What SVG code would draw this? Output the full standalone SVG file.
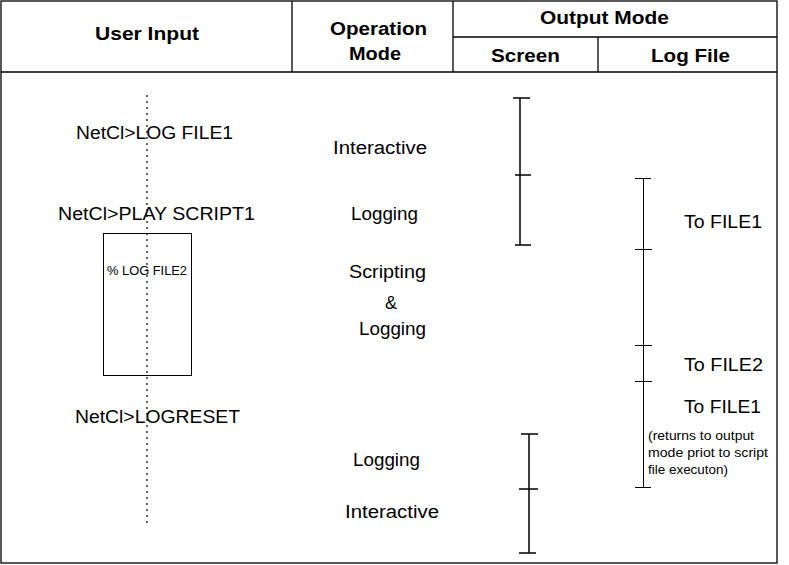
<svg xmlns="http://www.w3.org/2000/svg" width="789" height="565" viewBox="0 0 789 565">
<style>
.frame{fill:none;stroke:#000;stroke-width:1.3}
.h{font-family:"Liberation Sans",Arial,sans-serif;font-weight:bold;font-size:18px;fill:#000}
.t{font-family:"Liberation Sans",Arial,sans-serif;font-size:18px;fill:#000}
.s{font-family:"Liberation Sans",Arial,sans-serif;font-size:12px;fill:#000}
.bar{stroke:#000;stroke-width:1.5;fill:none}
.bar1{stroke:#000;stroke-width:1;fill:none}
.dot{stroke:#000;stroke-width:1.2;stroke-dasharray:2,4;fill:none}
</style>
<rect width="789" height="565" fill="#fff"/>
<g id="table">
<rect class="frame" x="1" y="1" width="776" height="562"/>
<line class="frame" x1="1" y1="72" x2="777" y2="72"/>
<line class="frame" x1="292" y1="1" x2="292" y2="72"/>
<line class="frame" x1="453" y1="1" x2="453" y2="72"/>
<line class="frame" x1="598" y1="37" x2="598" y2="72"/>
<line class="frame" x1="453" y1="37" x2="777" y2="37"/>
<text class="h" x="95" y="40" textLength="104" lengthAdjust="spacingAndGlyphs">User Input</text>
<text class="h" x="330" y="35" textLength="97" lengthAdjust="spacingAndGlyphs">Operation</text>
<text class="h" x="349" y="60" textLength="52" lengthAdjust="spacingAndGlyphs">Mode</text>
<text class="h" x="540" y="24" textLength="129" lengthAdjust="spacingAndGlyphs">Output Mode</text>
<text class="h" x="491" y="62" textLength="69" lengthAdjust="spacingAndGlyphs">Screen</text>
<text class="h" x="651" y="62" textLength="79" lengthAdjust="spacingAndGlyphs">Log File</text>
</g>
<g id="user-input">
<line class="dot" x1="147" y1="95" x2="147" y2="523"/>
<text class="t" x="76" y="139" textLength="157" lengthAdjust="spacingAndGlyphs">NetCl&gt;LOG FILE1</text>
<text class="t" x="58" y="220" textLength="197" lengthAdjust="spacingAndGlyphs">NetCl&gt;PLAY SCRIPT1</text>
<rect x="103.5" y="233.5" width="88" height="142" fill="none" stroke="#000" stroke-width="1"/>
<text class="s" x="107" y="275" textLength="80" lengthAdjust="spacingAndGlyphs">% LOG FILE2</text>
<text class="t" x="75" y="423" textLength="165" lengthAdjust="spacingAndGlyphs">NetCl&gt;LOGRESET</text>
</g>
<g id="operation-mode">
<text class="t" x="333" y="154" textLength="94" lengthAdjust="spacingAndGlyphs">Interactive</text>
<text class="t" x="351" y="220" textLength="67" lengthAdjust="spacingAndGlyphs">Logging</text>
<text class="t" x="349" y="278" textLength="77" lengthAdjust="spacingAndGlyphs">Scripting</text>
<text class="t" x="385" y="309" textLength="12" lengthAdjust="spacingAndGlyphs">&amp;</text>
<text class="t" x="359" y="335" textLength="67" lengthAdjust="spacingAndGlyphs">Logging</text>
<text class="t" x="353" y="466" textLength="67" lengthAdjust="spacingAndGlyphs">Logging</text>
<text class="t" x="345" y="518" textLength="94" lengthAdjust="spacingAndGlyphs">Interactive</text>
</g>
<g id="screen-bars">
<line class="bar" x1="520" y1="98" x2="520" y2="245"/>
<line class="bar" x1="513" y1="98" x2="530" y2="98"/>
<line class="bar" x1="515" y1="175" x2="531" y2="175"/>
<line class="bar" x1="515" y1="245" x2="531" y2="245"/>
<line class="bar" x1="529" y1="434" x2="529" y2="553"/>
<line class="bar" x1="521" y1="434" x2="538" y2="434"/>
<line class="bar" x1="519" y1="489" x2="538" y2="489"/>
<line class="bar" x1="519" y1="553" x2="536" y2="553"/>
</g>
<g id="log-file">
<line class="bar1" x1="643.5" y1="178.5" x2="643.5" y2="487.5"/>
<line class="bar1" x1="635" y1="178.5" x2="651" y2="178.5"/>
<line class="bar1" x1="635" y1="249.5" x2="652" y2="249.5"/>
<line class="bar1" x1="635" y1="345.5" x2="652" y2="345.5"/>
<line class="bar1" x1="635" y1="381.5" x2="652" y2="381.5"/>
<line class="bar1" x1="635" y1="487.5" x2="651" y2="487.5"/>
<text class="t" x="684" y="228" textLength="78" lengthAdjust="spacingAndGlyphs">To FILE1</text>
<text class="t" x="684" y="371" textLength="79" lengthAdjust="spacingAndGlyphs">To FILE2</text>
<text class="t" x="684" y="413" textLength="77" lengthAdjust="spacingAndGlyphs">To FILE1</text>
<text class="s" x="648" y="440" textLength="106" lengthAdjust="spacingAndGlyphs">(returns to output</text>
<text class="s" x="648" y="457" textLength="120" lengthAdjust="spacingAndGlyphs">mode priot to script</text>
<text class="s" x="648" y="474" textLength="80" lengthAdjust="spacingAndGlyphs">file executon)</text>
</g>
</svg>
